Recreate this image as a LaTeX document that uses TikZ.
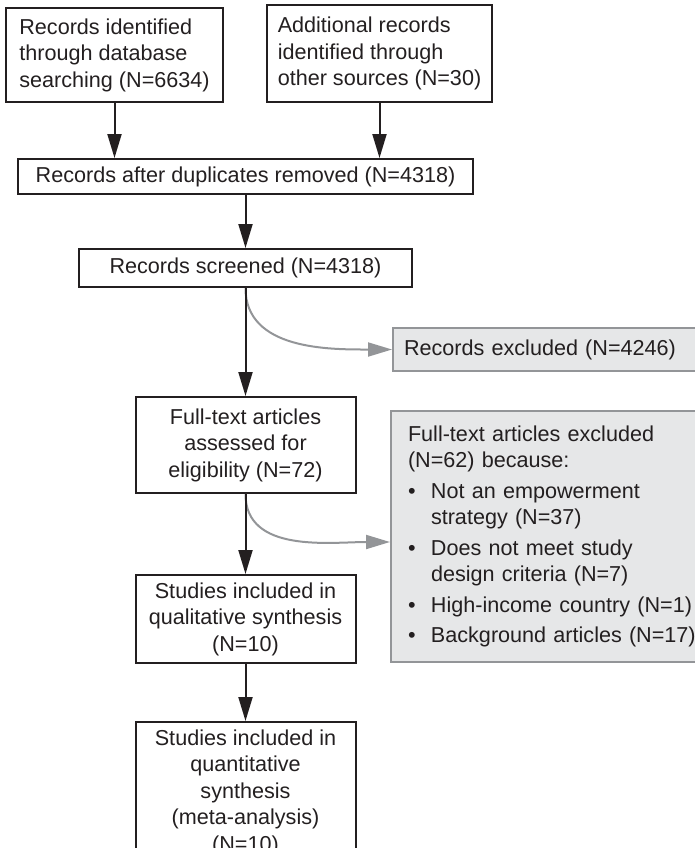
\documentclass[tikz,border=0pt]{standalone}
\usepackage{fontspec}
\setmainfont{Liberation Sans}
\usepackage{tikz}
\usetikzlibrary{arrows.meta,positioning,calc}
\definecolor{ink}{HTML}{231F20}
\definecolor{lightgrey}{HTML}{E6E7E8}
\definecolor{midgrey}{HTML}{939598}
\def\Bul{\makebox[11.5pt][l]{\textbullet}}
\def\Ind{\hspace*{11.5pt}}

\begin{document}
\begin{tikzpicture}[% styles for all nodes, override case-by-case
        x=0.5pt, y=-0.5pt,
        every node/.style={
            font=\fontsize{10.8pt}{13.25pt}\selectfont,
            text=ink,
            inner xsep=2pt, inner ysep=0pt
        },
        box/.style={rectangle, draw=ink, line width=1pt, align=center},
        gbox/.style={rectangle, draw=midgrey, fill=lightgrey, line width=1pt, align=left, anchor=west},
        every edge/.style={draw, line width=1pt},
        flow/.style={draw=ink, -{Triangle[length=12pt,width=7pt]}},
        skip/.style={draw=midgrey, -{Triangle[length=12pt,width=7pt]}}
    ]
    \useasboundingbox (0,0) rectangle (695,848);
    \clip (0,0) rectangle (695,848);
    \node[box, minimum width=227.5pt, minimum height=17.5pt](dup) at (245.5,176.5){Records after duplicates removed (N=4318)};
    \node[box, align=left, minimum width=108.5pt, minimum height=47pt](db)[above=27.5pt of dup, xshift=-65.5pt]{Records identified\\ through database\\ searching (N=6634)};
    \node[box, align=left, minimum width=112.5pt, minimum height=48.5pt](other)[above=27.5pt of dup, xshift=67pt]{Additional records\\ identified through\\ other sources (N=30)};
    \node[box, minimum width=166.5pt, minimum height=19pt](screen)[below=26.5pt of dup]{Records screened (N=4318)};
    \node[box, minimum width=110pt, minimum height=48pt](full)[below=54pt of screen]{Full-text articles\\ assessed for\\ eligibility (N=72)};
    \node[box, minimum width=110pt, minimum height=44pt](qual)[below=40pt of full]{Studies included in\\ qualitative synthesis\\ (N=10)};
    \node[box, minimum width=110pt, minimum height=70.5pt](quant)[below=28.5pt of qual]{Studies included in\\ quantitative\\ synthesis\\ (meta-analysis)\\ (N=10)};
    % excluded records, cut by the right margin
    \node[gbox, inner xsep=5.5pt, text width=150pt, minimum height=21.5pt](excl) at (392,349.5){Records excluded (N=4246)};
    \node[gbox, inner xsep=8.5pt, text width=155pt, minimum height=125.5pt](ftexcl) at (390,536.5){Full-text articles excluded\\ (N=62) because:\\[2pt]
        \Bul Not an empowerment\\ \Ind strategy (N=37)\\[2pt]
        \Bul Does not meet study\\ \Ind design criteria (N=7)\\[2pt]
        \Bul High-income country (N=1)\\[2pt]
        \Bul Background articles (N=17)};
    \path
    (screen.south) edge [skip, out=-90, in=180] (excl.west)
    (full.south) edge [skip, out=-90, in=180] ([yshift=-2.75pt]ftexcl.west)
    (db.south) edge [flow] (db.south |- dup.north)
    (other.south) edge [flow] (other.south |- dup.north)
    (dup.south) edge [flow] (screen.north)
    (screen.south) edge [flow] (full.north)
    (full.south) edge [flow] (qual.north)
    (qual.south) edge [flow] (quant.north)
    ;
\end{tikzpicture}
\end{document}
